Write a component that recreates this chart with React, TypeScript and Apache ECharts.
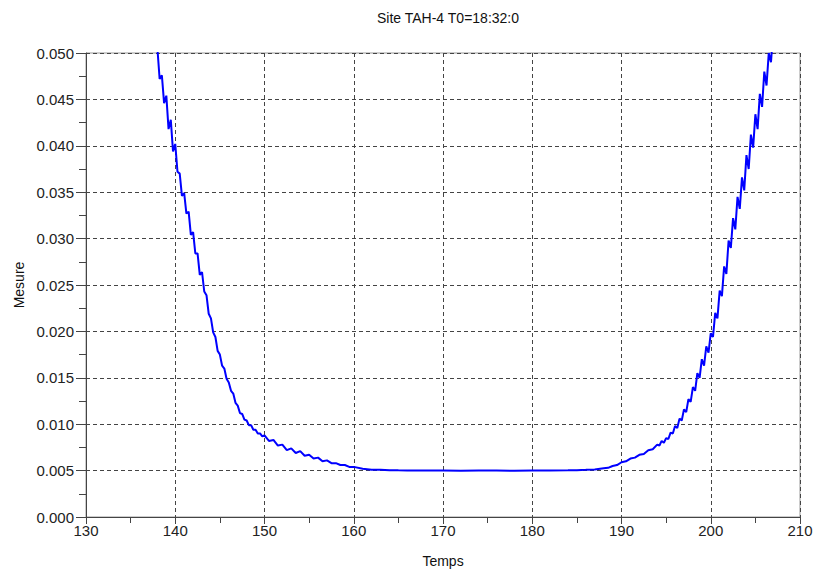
import React, { useEffect, useRef } from "react";
import * as echarts from "echarts";

const titleText = "Site TAH-4 T0=18:32:0";
const xName = "Temps";
const yName = "Mesure";

const temps: number[] = [
  137.0, 137.25, 137.5, 137.75, 138.0, 138.25, 138.5, 138.75, 139.0, 139.25,
  139.5, 139.75, 140.0, 140.25, 140.5, 140.75, 141.0, 141.25, 141.5, 141.75,
  142.0, 142.25, 142.5, 142.75, 143.0, 143.25, 143.5, 143.75, 144.0, 144.25,
  144.5, 144.75, 145.0, 145.25, 145.5, 145.75, 146.0, 146.25, 146.5, 146.75,
  147.0, 147.25, 147.5, 147.75, 148.0, 148.25, 148.5, 148.75, 149.0, 149.25,
  149.5, 149.75, 150.0, 150.5, 151.0, 151.5, 152.0, 152.5, 153.0, 153.5,
  154.0, 154.5, 155.0, 155.5, 156.0, 156.5, 157.0, 157.5, 158.0, 158.5,
  159.0, 159.5, 160.0, 161.0, 162.0, 163.0, 164.0, 165.0, 166.0, 168.0,
  170.0, 172.0, 174.0, 176.0, 178.0, 180.0, 182.0, 184.0, 185.0, 186.0,
  187.0, 188.0, 188.5, 189.0, 189.5, 190.0, 190.5, 191.0, 191.5, 192.0,
  192.5, 193.0, 193.5, 194.0, 194.25, 194.5, 194.75, 195.0, 195.25, 195.5,
  195.75, 196.0, 196.25, 196.5, 196.75, 197.0, 197.25, 197.5, 197.75, 198.0,
  198.25, 198.5, 198.75, 199.0, 199.25, 199.5, 199.75, 200.0, 200.25, 200.5,
  200.75, 201.0, 201.25, 201.5, 201.75, 202.0, 202.25, 202.5, 202.75, 203.0,
  203.25, 203.5, 203.75, 204.0, 204.25, 204.5, 204.75, 205.0, 205.25, 205.5,
  205.75, 206.0, 206.25, 206.5, 206.75, 207.0, 207.5, 208.0,
];

const mesure: number[] = [
  0.062, 0.0585, 0.0565, 0.0525, 0.0505, 0.0472, 0.0476, 0.0446, 0.0454, 0.0418,
  0.0428, 0.0394, 0.0402, 0.0372, 0.037, 0.0346, 0.0349, 0.0327, 0.0329, 0.0304,
  0.0307, 0.0284, 0.0284, 0.0261, 0.0264, 0.0243, 0.0239, 0.0219, 0.0214, 0.0199,
  0.0194, 0.0179, 0.0175, 0.0163, 0.016, 0.0149, 0.0145, 0.0136, 0.0133, 0.0123,
  0.012, 0.0112, 0.0111, 0.0105, 0.0104, 0.0099, 0.0099, 0.0094, 0.0094, 0.009,
  0.009, 0.0087, 0.0088, 0.0082, 0.0083, 0.0077, 0.0078, 0.0072, 0.0074, 0.0069,
  0.0071, 0.0066, 0.0067, 0.0063, 0.0064, 0.006, 0.0061, 0.0058, 0.0058, 0.0056,
  0.0056, 0.0054, 0.0054, 0.0052, 0.0051, 0.00508, 0.00505, 0.00503, 0.00502, 0.005,
  0.005, 0.00499, 0.005, 0.005, 0.00499, 0.005, 0.00501, 0.00503, 0.00505, 0.00508,
  0.00512, 0.00525, 0.0053, 0.0055, 0.0056, 0.0059, 0.006, 0.0063, 0.0064, 0.0067,
  0.0068, 0.0072, 0.0073, 0.0078, 0.0077, 0.0082, 0.008, 0.0085, 0.0084, 0.0091,
  0.009, 0.0098, 0.0096, 0.0106, 0.0104, 0.0116, 0.0113, 0.0127, 0.0124, 0.014,
  0.0136, 0.0155, 0.015, 0.017, 0.0163, 0.0184, 0.0177, 0.0198, 0.0194, 0.022,
  0.0214, 0.0244, 0.0238, 0.027, 0.0262, 0.0298, 0.029, 0.0322, 0.031, 0.0345,
  0.0332, 0.0366, 0.0352, 0.039, 0.0375, 0.0412, 0.0398, 0.0434, 0.0418, 0.0456,
  0.0442, 0.048, 0.0465, 0.05, 0.049, 0.0525, 0.056, 0.06,
];

const FONT = "Liberation Sans, Arial, sans-serif";

export default function App() {
  const ref = useRef<HTMLDivElement>(null);
  useEffect(() => {
    if (!ref.current) return;
    const chart = echarts.init(ref.current, undefined, { renderer: "svg" });
    chart.setOption({
      animation: false,
      backgroundColor: "#ffffff",
      title: {
        text: titleText,
        left: 443,
        textAlign: "center",
        top: 6,
        textStyle: { fontFamily: FONT, fontSize: 14, fontWeight: "normal", color: "#111" },
      },
      grid: {
        left: 86,
        right: 18,
        top: 53,
        bottom: 56,
        show: true,
        borderColor: "#999",
        borderWidth: 1,
      },
      xAxis: {
        type: "value",
        min: 130,
        max: 210,
        interval: 10,
        name: xName,
        nameLocation: "middle",
        nameGap: 37,
        nameTextStyle: { fontFamily: FONT, fontSize: 14, color: "#111" },
        axisLine: { show: true, onZero: false, lineStyle: { color: "#444", width: 1 } },
        axisTick: { show: true, length: 7, lineStyle: { color: "#444" } },
        minorTick: { show: true, splitNumber: 2, length: 6, lineStyle: { color: "#444" } },
        axisLabel: { fontFamily: FONT, fontSize: 15, color: "#222", margin: 6 },
        splitLine: { show: true, lineStyle: { color: "#444", type: [4, 3], width: 1 } },
      },
      yAxis: {
        type: "value",
        min: 0,
        max: 0.05,
        interval: 0.005,
        name: yName,
        nameLocation: "middle",
        nameGap: 58,
        nameTextStyle: { fontFamily: FONT, fontSize: 14, color: "#111" },
        axisLine: { show: true, onZero: false, lineStyle: { color: "#444", width: 1 } },
        axisTick: { show: true, length: 10, lineStyle: { color: "#444" } },
        minorTick: { show: true, splitNumber: 2, length: 7, lineStyle: { color: "#444" } },
        axisLabel: {
          fontFamily: FONT,
          fontSize: 15,
          color: "#222",
          margin: 12,
          formatter: (v: number) => v.toFixed(3),
        },
        splitLine: { show: true, lineStyle: { color: "#444", type: [4, 3], width: 1 } },
      },
      series: [
        {
          type: "line",
          data: temps.map((t, i) => [t, mesure[i]]),
          showSymbol: false,
          clip: true,
          lineStyle: { color: "#0000ff", width: 2 },
        },
      ],
    });
    return () => chart.dispose();
  }, []);
  return (
    <div
      ref={ref}
      style={{ position: "fixed", left: 0, top: 0, width: 818, height: 573 }}
    />
  );
}
